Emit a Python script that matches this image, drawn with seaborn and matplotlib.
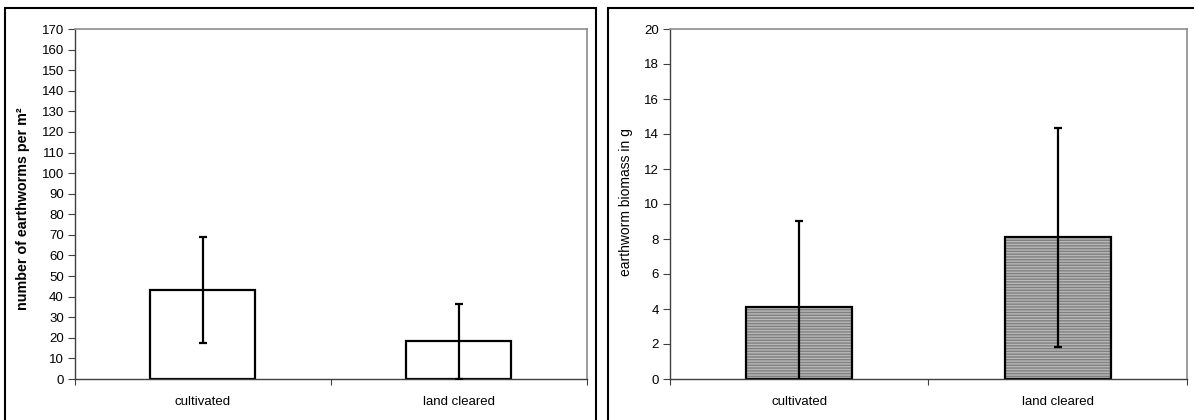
import numpy as np
import pandas as pd
import matplotlib
matplotlib.use("Agg")
import matplotlib.pyplot as plt
from matplotlib.patches import Rectangle
from matplotlib.colors import to_rgba
import seaborn as sns

categories = ["cultivated", "land cleared"]
count_mean = [43.3, 18.3]
count_err = [25.7, 18.1]
biomass_mean = [4.1, 8.1]
biomass_err = [4.95, 6.27]
count_ticks = list(range(0, 171, 10))
biomass_ticks = list(range(0, 21, 2))

sns.set_theme(style="white")
plt.rcParams["font.family"] = ["Liberation Sans", "DejaVu Sans"]
plt.rcParams["hatch.linewidth"] = 1.0

W, H = 1194, 420
fig = plt.figure(figsize=(W / 100, H / 100), dpi=100)
fig.patch.set_facecolor("white")

def px_axes(l, t, r, b):
    return fig.add_axes([l / W, (H - b) / H, (r - l) / W, (b - t) / H])

ax1 = px_axes(75, 29, 586.5, 379)
ax2 = px_axes(670, 29, 1187, 379)

df1 = pd.DataFrame({"cat": categories, "val": count_mean})
df2 = pd.DataFrame({"cat": categories, "val": biomass_mean})

sns.barplot(data=df1, x="cat", y="val", ax=ax1, color="white", edgecolor="black",
            linewidth=1.6, width=0.41, errorbar=None, saturation=1)
sns.barplot(data=df2, x="cat", y="val", ax=ax2, color="#b8b8b8", edgecolor="black",
            linewidth=1.6, width=0.41, errorbar=None, saturation=1)
for p in ax2.patches:
    p.set_hatch("------")
    p._hatch_color = to_rgba("#808080")

for ax, m, e in [(ax1, count_mean, count_err), (ax2, biomass_mean, biomass_err)]:
    ax.errorbar(x=np.arange(len(categories)), y=m, yerr=e, fmt="none",
                ecolor="black", elinewidth=1.6, capsize=3.0, capthick=1.6, zorder=5)

for ax, ticks, lab, wt, fs, lx, ly in [
        (ax1, count_ticks, "number of earthworms per m\u00b2", "bold", 10.3, -0.088, 0.486),
        (ax2, biomass_ticks, "earthworm biomass in g", "normal", 10.0, -0.0716, 0.506)]:
    ax.set_xlim(-0.5, 1.5)
    ax.set_ylim(ticks[0], ticks[-1])
    ax.set_yticks(ticks)
    ax.set_yticklabels([str(t) for t in ticks], fontsize=9.5, color="black")
    ax.set_xticks(range(len(categories)))
    ax.set_xticklabels(categories, fontsize=9.5, color="black")
    ax.set_xticks([-0.5, 0.5, 1.5], minor=True)
    ax.tick_params(axis="x", which="major", length=0, pad=12)
    ax.tick_params(axis="x", which="minor", length=4, width=0.8, color="#404040", direction="out", bottom=True)
    ax.tick_params(axis="y", which="major", length=5, width=0.8, color="#404040", direction="out", left=True, pad=3)
    ax.set_xlabel("")
    ax.set_ylabel(lab, fontsize=fs, fontweight=wt, color="black")
    ax.yaxis.set_label_coords(lx, ly)
    for s in ["top", "right"]:
        ax.spines[s].set_color("#8c8c8c")
        ax.spines[s].set_linewidth(1.2)
    for s in ["left", "bottom"]:
        ax.spines[s].set_color("#404040")
        ax.spines[s].set_linewidth(1.0)
    ax.set_facecolor("white")

# outer chart frames
fig.patches.append(Rectangle((5 / W, -0.1), (596 - 5) / W, (H - 8) / H + 0.1,
                             transform=fig.transFigure, fill=False, edgecolor="black",
                             linewidth=1.5, figure=fig))
fig.patches.append(Rectangle((608 / W, -0.1), 0.5, (H - 8) / H + 0.1,
                             transform=fig.transFigure, fill=False, edgecolor="black",
                             linewidth=1.5, figure=fig))

fig.savefig("out.png", dpi=100, facecolor="white")
